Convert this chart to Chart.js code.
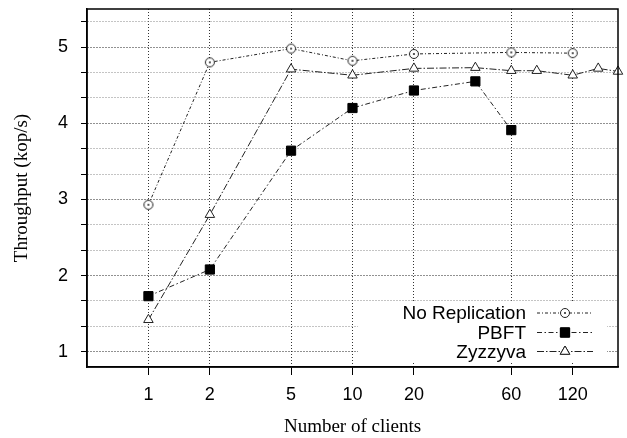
<!DOCTYPE html>
<html>
<head>
<meta charset="utf-8">
<script src="https://cdn.jsdelivr.net/npm/chart.js@4/dist/chart.umd.min.js"></script>
<style>
  html, body { margin: 0; padding: 0; background: #fff; }
  canvas { display: block; }
</style>
</head>
<body>
<canvas id="c" width="627" height="438"></canvas>
<script>
// ---- data ----
const xTicks = [1, 2, 5, 10, 20, 60, 120];
const yTickLabels = [1, 2, 3, 4, 5];

const noRepX = [1, 2, 5, 10, 20, 60, 120];
const noRepY = [2.93, 4.80, 4.98, 4.82, 4.91, 4.93, 4.92];

const pbftX = [1, 2, 5, 10, 20, 40, 60];
const pbftY = [1.73, 2.08, 3.64, 4.20, 4.43, 4.55, 3.91];

const zyzX = [1, 2, 5, 10, 20, 40, 60, 80, 120, 160, 200];
const zyzY = [1.42, 2.80, 4.71, 4.63, 4.72, 4.73, 4.69, 4.69, 4.63, 4.72, 4.68];

const seriesNames = ['No Replication', 'PBFT', 'Zyzzyva'];

// ---- helpers ----
const pts = (xs, ys) => xs.map((x, i) => ({ x: x, y: ys[i] }));

function circleDot() {
  const c = document.createElement('canvas');
  c.width = 12; c.height = 12;
  const g = c.getContext('2d');
  g.fillStyle = '#fff';
  g.strokeStyle = '#222';
  g.lineWidth = 1;
  g.beginPath(); g.arc(6, 6, 4.5, 0, Math.PI * 2); g.fill(); g.stroke();
  g.fillStyle = '#222';
  g.beginPath(); g.arc(6, 6, 1, 0, Math.PI * 2); g.fill();
  return c;
}
const circleImg = circleDot();

Chart.defaults.color = '#000';

const minorY = [];
for (let k = 3; k <= 16; k++) minorY.push(k / 3);

const isMajorY = v => Math.abs(v - Math.round(v)) < 1e-6;

const frameAndLegend = {
  id: 'frameAndLegend',
  afterDatasetsDraw(chart) {
    const { ctx, chartArea: a } = chart;
    ctx.save();
    // legend box (opaque)
    const boxL = a.left + 271, boxR = a.right - 11, boxT = a.bottom - 64, boxB = a.bottom - 5;
    ctx.fillStyle = '#fff';
    ctx.fillRect(boxL, boxT, boxR - boxL, boxB - boxT);
    const textR = a.right - 92;
    const lineL = a.right - 81, lineR = a.right - 25, mk = a.right - 53;
    const rowsY = [a.bottom - 54, a.bottom - 34.5, a.bottom - 15.5];
    ctx.font = '19px "Liberation Sans", Arial, sans-serif';
    ctx.textAlign = 'right';
    ctx.textBaseline = 'middle';
    chart.data.datasets.forEach((ds, i) => {
      const y = rowsY[i];
      ctx.fillStyle = '#000';
      ctx.fillText(ds.label, textR, y + 1);
      ctx.strokeStyle = ds.borderColor;
      ctx.lineWidth = ds.borderWidth;
      ctx.setLineDash(ds.borderDash);
      ctx.beginPath(); ctx.moveTo(lineL, y); ctx.lineTo(lineR, y); ctx.stroke();
      ctx.setLineDash([]);
      Chart.helpers.drawPoint(ctx, {
        pointStyle: ds.pointStyle, radius: ds.pointRadius, borderWidth: 1, rotation: 0
      }, mk, y);
      if (typeof ds.pointStyle === 'string') {
        ctx.fillStyle = ds.pointBackgroundColor;
        ctx.strokeStyle = ds.pointBorderColor;
        ctx.lineWidth = 1;
        ctx.fill(); ctx.stroke();
      }
    });
    // frame
    ctx.strokeStyle = '#000';
    ctx.lineWidth = 1.5;
    ctx.setLineDash([]);
    ctx.strokeRect(a.left, a.top, a.right - a.left, a.bottom - a.top);
    ctx.restore();
  }
};

new Chart(document.getElementById('c'), {
  type: 'line',
  data: {
    datasets: [
      {
        label: seriesNames[0],
        data: pts(noRepX, noRepY),
        borderColor: '#222', borderWidth: 1, borderDash: [3, 2, 1, 2],
        pointStyle: circleImg, pointRadius: 5,
        pointBackgroundColor: '#fff', pointBorderColor: '#222',
        fill: false, tension: 0, clip: false
      },
      {
        label: seriesNames[1],
        data: pts(pbftX, pbftY),
        borderColor: '#222', borderWidth: 1, borderDash: [5, 2.5, 1.5, 2.5],
        pointStyle: 'rect', pointRadius: 6.5,
        pointBackgroundColor: '#000', pointBorderColor: '#000', pointBorderWidth: 1,
        fill: false, tension: 0, clip: false
      },
      {
        label: seriesNames[2],
        data: pts(zyzX, zyzY),
        borderColor: '#222', borderWidth: 1, borderDash: [7, 2, 1.5, 2],
        pointStyle: 'triangle', pointRadius: 5.5,
        pointBackgroundColor: '#fff', pointBorderColor: '#222', pointBorderWidth: 1,
        fill: false, tension: 0, clip: false
      }
    ]
  },
  plugins: [frameAndLegend],
  options: {
    responsive: false,
    animation: false,
    devicePixelRatio: 1,
    layout: { padding: { top: 9, right: 9, left: 0, bottom: 0 } },
    plugins: { legend: { display: false }, tooltip: { enabled: false } },
    scales: {
      x: {
        type: 'logarithmic',
        min: 0.5, max: 200,
        afterBuildTicks: s => { s.ticks = xTicks.map(v => ({ value: v })); },
        afterFit: s => { s.height = 71; s.paddingLeft = 0; s.paddingRight = 0; },
        ticks: {
          font: { family: '"Liberation Sans", Arial, sans-serif', size: 18 },
          color: '#000',
          padding: 9,
          maxRotation: 0, autoSkip: false,
          callback: (v, i, t) => String(t[i].value)
        },
        grid: {
          color: '#333', lineWidth: 1,
          tickColor: '#000', tickLength: 8, tickBorderDash: [], drawOnChartArea: true
        },
        border: { display: true, color: '#000', width: 1.5, dash: [1, 2] },
        title: {
          display: true, text: 'Number of clients',
          font: { family: '"Liberation Serif", "Times New Roman", serif', size: 19 },
          color: '#000', padding: { top: 0, bottom: 0 }
        }
      },
      y: {
        type: 'linear',
        min: 0.8, max: 5.5,
        afterBuildTicks: s => { s.ticks = minorY.map(v => ({ value: v })); },
        afterFit: s => { s.width = 87; s.paddingTop = 0; s.paddingBottom = 0; },
        ticks: {
          font: { family: '"Liberation Sans", Arial, sans-serif', size: 18 },
          color: '#000',
          padding: 13,
          autoSkip: false,
          callback: v => {
            const r = Math.round(v);
            return (isMajorY(v) && yTickLabels.includes(r)) ? String(r) : '';
          }
        },
        grid: {
          color: c => (c.tick && isMajorY(c.tick.value)) ? '#222' : '#888',
          lineWidth: 1,
          tickColor: '#000',
          tickLength: c => (c.tick && isMajorY(c.tick.value)) ? 8 : 6,
          tickBorderDash: []
        },
        border: { display: true, color: '#000', width: 1.5, dash: [1, 2] },
        title: {
          display: true, text: 'Throughput (kop/s)',
          font: { family: '"Liberation Serif", "Times New Roman", serif', size: 19 },
          color: '#000', padding: { top: 11, bottom: 0 }
        }
      }
    }
  }
});
</script>
</body>
</html>
